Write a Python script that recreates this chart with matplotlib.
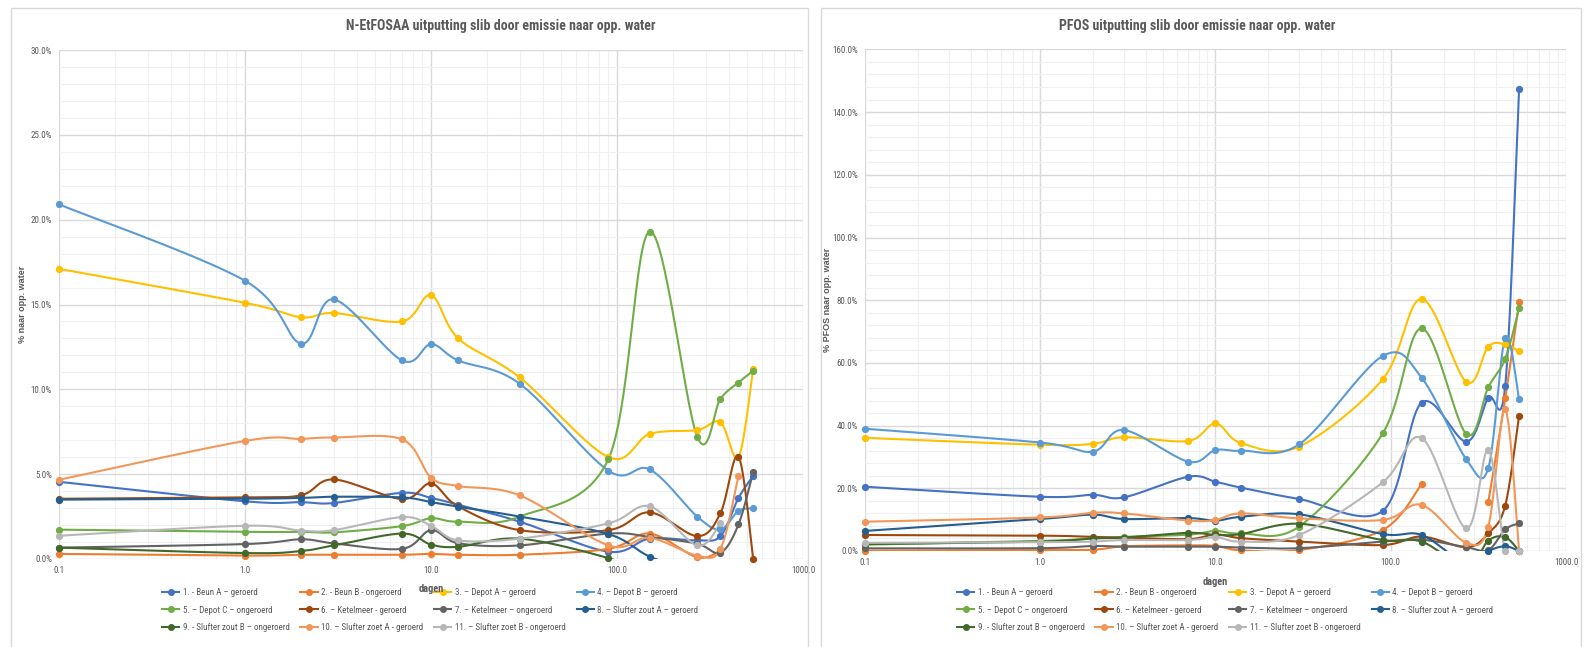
import numpy as np
import matplotlib
matplotlib.use("Agg")
import matplotlib.pyplot as plt
from matplotlib import font_manager
from matplotlib.lines import Line2D
from matplotlib.patches import Rectangle
from matplotlib.ticker import FuncFormatter, MultipleLocator, LogLocator, FixedLocator

nan = np.nan

# days since start
dagen = [0.1, 1, 2, 3, 7, 10, 14, 30, 90, 150, 270, 360, 450, 540]

labels = [
    "1. - Beun A – geroerd",
    "2. - Beun B - ongeroerd",
    "3. – Depot A – geroerd",
    "4. – Depot B – geroerd",
    "5. – Depot C – ongeroerd",
    "6. – Ketelmeer - geroerd",
    "7. – Ketelmeer – ongeroerd",
    "8. – Slufter zout A – geroerd",
    "9. - Slufter zout B – ongeroerd",
    "10. – Slufter zoet A - geroerd",
    "11. – Slufter zoet B - ongeroerd",
]

colors = ["#4472C4", "#ED7D31", "#FFC000", "#5B9BD5", "#70AD47", "#9E480E",
          "#636363", "#255E91", "#43682B", "#F1975A", "#B7B7B7"]

# N-EtFOSAA, % naar opp. water
etfosaa_1 = [4.55, 3.4, 3.35, 3.3, 3.9, 3.6, 3.2, 2.2, 0.43, 1.2, 1.1, 1.35, 3.6, 4.9]
etfosaa_2 = [0.3, 0.2, 0.25, 0.25, 0.25, 0.3, 0.25, 0.25, 0.6, 1.5, 0.1, 0.5, nan, nan]
etfosaa_3 = [17.1, 15.1, 14.25, 14.5, 14.0, 15.55, 13.0, 10.7, 6.0, 7.37, 7.6, 8.06, 6.0, 11.2]
etfosaa_4 = [20.9, 16.4, 12.7, 15.3, 11.7, 12.66, 11.7, 10.33, 5.2, 5.28, 2.5, 1.75, 2.84, 2.98]
etfosaa_5 = [1.73, 1.6, 1.6, 1.57, 1.94, 2.4, 2.2, 2.5, 5.9, 19.3, 7.2, 9.45, 10.4, 11.1]
etfosaa_6 = [3.55, 3.63, 3.76, 4.69, 3.53, 4.45, 3.1, 1.7, 1.7, 2.75, 1.35, 2.7, 6.04, 0.0]
etfosaa_7 = [0.67, 0.88, 1.16, 0.92, 0.6, 1.7, 0.93, 0.8, 1.5, 1.3, 0.9, 0.37, 2.04, 5.14]
etfosaa_8 = [3.5, 3.55, 3.6, 3.67, 3.63, 3.35, 3.08, 2.5, 1.47, 0.14, -0.8, nan, nan, nan]
etfosaa_9 = [0.67, 0.35, 0.47, 0.8, 1.5, 0.85, 0.72, 1.2, 0.05, -1.0, nan, nan, nan, nan]
etfosaa_10 = [4.67, 6.96, 7.08, 7.16, 7.05, 4.8, 4.3, 3.75, 0.8, 1.25, 0.2, 0.6, 4.9, nan]
etfosaa_11 = [1.37, 1.96, 1.67, 1.7, 2.47, 1.96, 1.1, 1.2, 2.1, 3.1, 0.8, 2.1, nan, nan]

# PFOS, % naar opp. water
pfos_1 = [20.5, 17.3, 17.9, 17.1, 23.7, 22.1, 20.2, 16.6, 12.8, 47.3, 34.9, 48.9, 52.7, 147.5]
pfos_2 = [0.1, 0.3, 0.4, 1.5, 1.8, 1.6, 0.2, 0.3, 6.7, 21.3, nan, 15.5, 48.7, 79.4]
pfos_3 = [36.1, 33.9, 34.2, 36.3, 35.1, 40.7, 34.4, 33.3, 54.8, 80.4, 53.9, 65.2, 65.9, 63.7]
pfos_4 = [39.0, 34.6, 31.7, 38.6, 28.5, 32.2, 32.0, 34.0, 62.2, 55.3, 29.2, 26.4, 68.0, 48.4]
pfos_5 = [2.0, 3.2, 4.0, 4.5, 5.2, 6.4, 5.6, 7.8, 37.5, 71.0, 37.3, 52.2, 61.3, 77.5]
pfos_6 = [5.1, 4.9, 4.5, 4.3, 3.8, 5.3, 4.1, 3.0, 1.9, 4.6, 1.2, 5.6, 14.5, 43.2]
pfos_7 = [0.85, 0.9, 1.6, 1.4, 1.4, 1.4, 1.1, 0.9, 3.0, 3.6, 1.2, 0.3, 6.9, 8.8]
pfos_8 = [6.4, 10.2, 11.6, 10.2, 10.5, 9.7, 10.9, 11.7, 5.4, 5.1, -4.0, 0.0, 1.5, 0.0]
pfos_9 = [2.2, 3.0, 4.0, 4.3, 5.8, 5.1, 5.4, 8.7, 3.5, 3.0, -5.0, 3.3, 4.4, 0.0]
pfos_10 = [9.35, 10.7, 12.2, 12.0, 9.7, 9.9, 12.0, 10.4, 9.9, 14.7, 2.6, 7.8, 45.2, 0.0]
pfos_11 = [2.6, 2.8, 3.0, 3.5, 3.5, 4.4, 3.0, 5.1, 21.9, 36.1, 7.2, 32.2, 0.0, 0.0]

etfosaa = [etfosaa_1, etfosaa_2, etfosaa_3, etfosaa_4, etfosaa_5, etfosaa_6,
           etfosaa_7, etfosaa_8, etfosaa_9, etfosaa_10, etfosaa_11]
pfos = [pfos_1, pfos_2, pfos_3, pfos_4, pfos_5, pfos_6,
        pfos_7, pfos_8, pfos_9, pfos_10, pfos_11]

x_ticks = [0.1, 1, 10, 100, 1000]


def pick_font(names):
    installed = {f.name for f in font_manager.fontManager.ttflist}
    for n in names:
        if n in installed:
            return n
    return "DejaVu Sans"


NARROW = pick_font(["Liberation Sans Narrow", "Arial Narrow", "Roboto Condensed", "Liberation Sans"])
WIDE = pick_font(["Liberation Sans", "Arial", "DejaVu Sans"])
GREY = "#595959"


def smooth(xs, ys, n=30):
    # excel style smoothed line: catmull-rom bezier in (log x, y) space, gaps at nan
    xs = np.asarray(xs, float)
    ys = np.asarray(ys, float)
    runs, cur = [], []
    for u, v in zip(np.log10(xs), ys):
        if np.isnan(v):
            if cur:
                runs.append(cur)
            cur = []
        else:
            cur.append((u, v))
    if cur:
        runs.append(cur)
    out = []
    t = np.linspace(0, 1, n)[:, None]
    for r in runs:
        p = np.array(r)
        if len(p) < 2:
            continue
        pts = []
        for i in range(len(p) - 1):
            p0 = p[i - 1] if i > 0 else p[i]
            p1, p2 = p[i], p[i + 1]
            p3 = p[i + 2] if i + 2 < len(p) else p[i + 1]
            c1 = p1 + (p2 - p0) / 6
            c2 = p2 - (p3 - p1) / 6
            b = ((1 - t) ** 3) * p1 + 3 * ((1 - t) ** 2) * t * c1 + 3 * (1 - t) * t ** 2 * c2 + t ** 3 * p2
            pts.append(b)
        seg = np.vstack(pts)
        out.append((10 ** seg[:, 0], seg[:, 1]))
    return out


def draw_panel(ax, series, ymax, ymajor, yminor, title, ylabel, title_x, xlabel_y, leg_x, ylab_x):
    for vals, c in zip(series, colors):
        for sx, sy in smooth(dagen, vals):
            ax.plot(sx, sy, color=c, lw=1.5, solid_capstyle="round", zorder=3)
        xv = np.array(dagen)
        yv = np.array(vals, float)
        ok = ~np.isnan(yv) & (yv >= 0)
        ax.plot(xv[ok], yv[ok], ls="none", marker="o", ms=4.2, color=c, clip_on=False, zorder=4)

    ax.set_xscale("log")
    ax.set_xlim(0.1, 1000)
    ax.set_ylim(0, ymax)
    ax.xaxis.set_major_locator(FixedLocator(x_ticks))
    ax.xaxis.set_minor_locator(LogLocator(base=10, subs=np.arange(2, 10)))
    ax.xaxis.set_major_formatter(FuncFormatter(lambda v, p: f"{v:.1f}"))
    ax.xaxis.set_minor_formatter(FuncFormatter(lambda v, p: ""))
    ax.yaxis.set_major_locator(MultipleLocator(ymajor))
    ax.yaxis.set_minor_locator(MultipleLocator(yminor))
    ax.yaxis.set_major_formatter(FuncFormatter(lambda v, p: f"{v:.1f}%"))
    ax.grid(which="major", color="#D9D9D9", lw=1.0, zorder=1)
    ax.grid(which="minor", color="#F0F0F0", lw=0.8, zorder=0)
    ax.set_axisbelow(True)
    for s in ax.spines.values():
        s.set_visible(False)
    ax.tick_params(which="both", length=0, labelsize=6.5, labelcolor=GREY, pad=5)
    for lab in ax.get_xticklabels() + ax.get_yticklabels():
        lab.set_fontfamily(NARROW)

    ax.set_ylabel(ylabel, fontsize=6.5, fontweight="bold", color=GREY, family=WIDE)
    ax.yaxis.set_label_coords(ylab_x, 0.5)

    fig = ax.figure
    fig.text(title_x / 1586, 1 - 26 / 647, title, ha="center", va="center",
             fontsize=10, fontweight="bold", color=GREY, family=NARROW)
    box = ax.get_position()
    fig.text((box.x0 + box.x1) / 2, 1 - xlabel_y / 647, "dagen", ha="center", va="center",
             fontsize=7.5, fontweight="bold", color=GREY, family=NARROW)

    handles = [Line2D([], [], color=c, lw=1.5, marker="o", ms=4) for c in colors]
    # row-wise order for a 4-column legend
    order = [0, 4, 8, 1, 5, 9, 2, 6, 10, 3, 7]
    leg = ax.legend([handles[i] for i in order], [labels[i] for i in order], ncol=4,
                    loc="upper left", bbox_to_anchor=(leg_x / 1586, 1 - 588 / 647),
                    bbox_transform=fig.transFigure, frameon=False,
                    prop={"family": NARROW, "size": 6.5}, handlelength=1.9,
                    handletextpad=0.4, columnspacing=1.2, labelspacing=0.95,
                    borderaxespad=0, borderpad=0)
    for t in leg.get_texts():
        t.set_color(GREY)


fig = plt.figure(figsize=(15.86, 6.47), dpi=100)

# chart panel frames
fig.patches.append(Rectangle((11 / 1586, -0.05), 797 / 1586, 1.05 - 8 / 647, transform=fig.transFigure,
                             fill=False, edgecolor="#D9D9D9", lw=1))
fig.patches.append(Rectangle((821 / 1586, -0.05), 760 / 1586, 1.05 - 8 / 647, transform=fig.transFigure,
                             fill=False, edgecolor="#D9D9D9", lw=1))

ax1 = fig.add_axes([59 / 1586, 88 / 647, 744 / 1586, 509 / 647])
ax2 = fig.add_axes([865 / 1586, 96 / 647, 701 / 1586, 501.6 / 647])

draw_panel(ax1, etfosaa, 30, 5, 1, "N-EtFOSAA uitputting slib door emissie naar opp. water",
           "% naar opp. water", 501, 589, 162, -0.043)
draw_panel(ax2, pfos, 160, 20, 4, "PFOS uitputting slib door emissie naar opp. water",
           "% PFOS naar opp. water", 1197, 582, 957, -0.047)

fig.savefig("out.png", dpi=100)
